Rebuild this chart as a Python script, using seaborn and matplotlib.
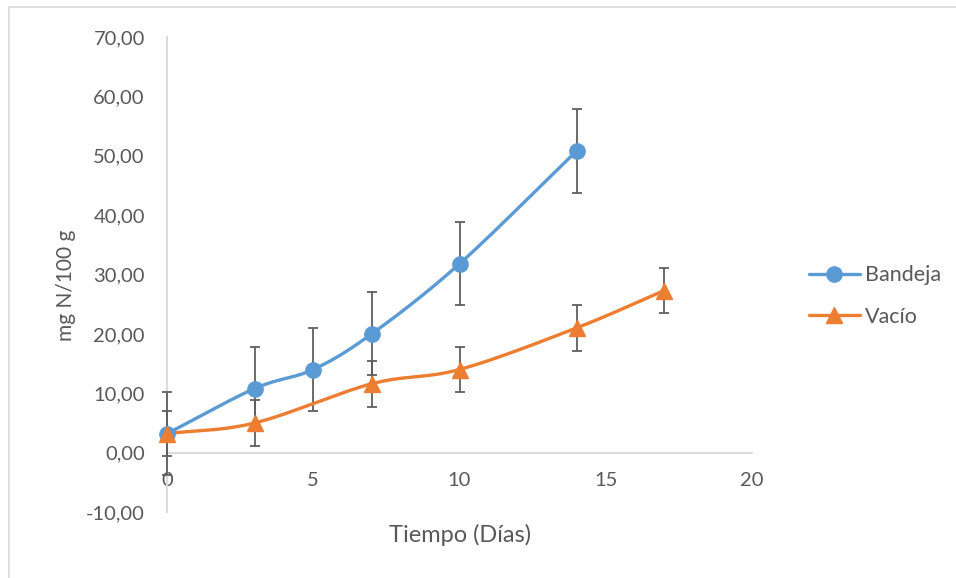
import numpy as np
import pandas as pd
import matplotlib
matplotlib.use("Agg")
import matplotlib.pyplot as plt
from matplotlib.lines import Line2D
from matplotlib.patches import Rectangle
import seaborn as sns

# ---- data ----
bandeja_x = [0, 3, 5, 7, 10, 14]
bandeja_y = [3.2, 10.8, 14.0, 20.0, 31.8, 50.8]
bandeja_err = [7.0, 7.0, 7.0, 7.0, 7.0, 7.0]

vacio_x = [0, 3, 7, 10, 14, 17]
vacio_y = [3.2, 5.0, 11.6, 14.0, 21.0, 27.3]
vacio_err = [3.8, 3.8, 3.9, 3.8, 3.8, 3.8]

series_names = ["Bandeja", "Vacío"]
y_ticks = [-10, 0, 10, 20, 30, 40, 50, 60, 70]
y_tick_labels = ["-10,00", "0,00", "10,00", "20,00", "30,00", "40,00", "50,00", "60,00", "70,00"]
x_ticks = [0, 5, 10, 15, 20]
x_tick_labels = ["0", "5", "10", "15", "20"]

BLUE = "#5B9BD5"
ORANGE = "#ED7D31"
TEXT = "#595959"
AXIS = "#D9D9D9"
ERR = "#5F5F5F"

sns.set_theme(style="white")
plt.rcParams["font.family"] = ["Lato", "DejaVu Sans"]


def smooth(xs, ys, n=30):
    """Catmull-Rom style smoothing (like Excel's smoothed line) drawn from data points."""
    xs = np.asarray(xs, float)
    ys = np.asarray(ys, float)
    px = np.concatenate([[2 * xs[0] - xs[1]], xs, [2 * xs[-1] - xs[-2]]])
    py = np.concatenate([[2 * ys[0] - ys[1]], ys, [2 * ys[-1] - ys[-2]]])
    outx, outy = [], []
    for i in range(1, len(px) - 2):
        p0, p1, p2, p3 = [np.array([px[j], py[j]]) for j in (i - 1, i, i + 1, i + 2)]
        c1 = p1 + (p2 - p0) / 6.0
        c2 = p2 - (p3 - p1) / 6.0
        t = np.linspace(0, 1, n)[:, None]
        pts = ((1 - t) ** 3) * p1 + 3 * ((1 - t) ** 2) * t * c1 + 3 * (1 - t) * t ** 2 * c2 + t ** 3 * p2
        outx.extend(pts[:, 0]); outy.extend(pts[:, 1])
    return np.array(outx), np.array(outy)


fig = plt.figure(figsize=(9.56, 5.78), dpi=100)
ax = fig.add_axes([167 / 956, 66 / 578, 585 / 956, 475 / 578])

# frame of chart area
fig.patches.append(Rectangle((9 / 956, -0.01), 1.2, (578 - 7) / 578 + 0.01, transform=fig.transFigure,
                             fill=False, edgecolor="#D9D9D9", linewidth=1.2, zorder=0))

specs = [
    (bandeja_x, bandeja_y, bandeja_err, BLUE, "o", 11),
    (vacio_x, vacio_y, vacio_err, ORANGE, "^", 11),
]
for name, (xs, ys, es, col, mk, ms) in zip(series_names, specs):
    cont = ax.errorbar(xs, ys, yerr=es, fmt="none", ecolor=ERR, elinewidth=1.3, capsize=3.8,
                       capthick=1.3, zorder=3)
    for art in cont.get_children():
        art.set_clip_on(False)
    sx, sy = smooth(xs, ys)
    df = pd.DataFrame({"x": sx, "y": sy})
    sns.lineplot(data=df, x="x", y="y", ax=ax, color=col, linewidth=2.4, sort=False,
                 estimator=None, zorder=4)
    ax.plot(xs, ys, linestyle="none", marker=mk, markersize=ms, color=col, zorder=5, clip_on=False)

ax.set_xlim(0, 20)
ax.set_ylim(-10, 70)
ax.set_xticks(x_ticks)
ax.set_xticklabels(x_tick_labels)
ax.set_yticks(y_ticks)
ax.set_yticklabels(y_tick_labels)
ax.tick_params(axis="both", length=0, labelsize=14.5, colors=TEXT)
ax.tick_params(axis="x", pad=14)
ax.tick_params(axis="y", pad=16)

for s in ["top", "right"]:
    ax.spines[s].set_visible(False)
ax.spines["bottom"].set_position(("data", 0))
ax.spines["bottom"].set_color(AXIS)
ax.spines["bottom"].set_linewidth(1.3)
ax.spines["left"].set_color(AXIS)
ax.spines["left"].set_linewidth(1.3)
for s in ax.spines.values():
    s.set_zorder(1)
ax.grid(False)

ax.set_xlabel("Tiempo (Días)", fontsize=17, color=TEXT)
ax.set_ylabel("mg N/100 g", fontsize=15, color=TEXT)
ax.xaxis.set_label_coords((460 - 167) / 585, (578 - 524 - 66) / 475)
ax.yaxis.set_label_coords((76 - 167) / 585, (578 - 285 - 66) / 475)

handles = [
    Line2D([0], [0], color=BLUE, marker="o", markersize=11, linewidth=2.4),
    Line2D([0], [0], color=ORANGE, marker="^", markersize=11, linewidth=2.4),
]
leg = fig.legend(handles, series_names, loc="center left", bbox_to_anchor=(800 / 956, 1 - 296 / 578),
                 frameon=False, fontsize=15.5, handlelength=2.4, labelspacing=1.0,
                 handletextpad=0.2, borderaxespad=0)
for t in leg.get_texts():
    t.set_color(TEXT)

fig.savefig("out.png", dpi=100)
